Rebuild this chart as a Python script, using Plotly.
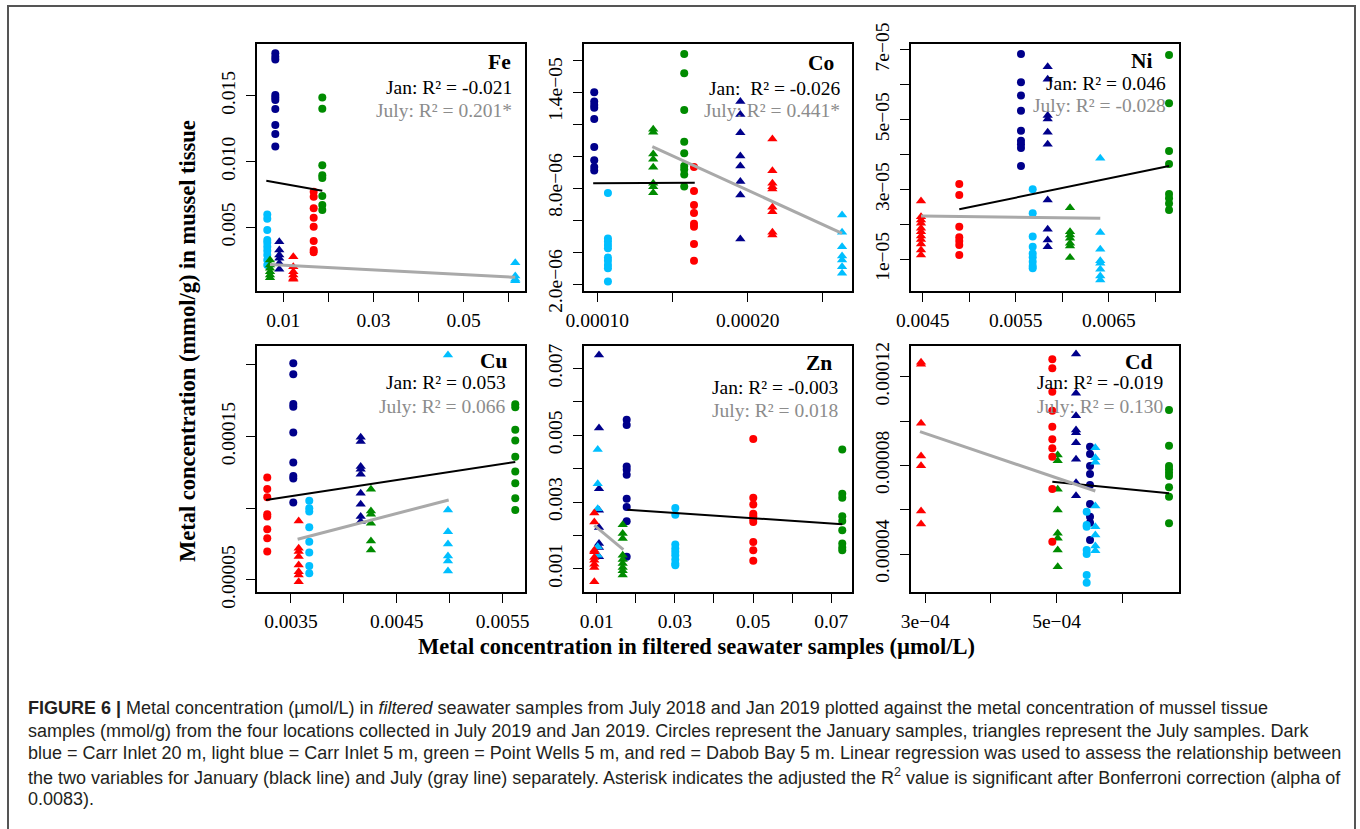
import plotly.graph_objects as go

# ------------------------------------------------------------------
# DATA  (site order: Carr Inlet 20 m, Carr Inlet 5 m, Point Wells 5 m, Dabob Bay 5 m)
# ------------------------------------------------------------------
SITES = ["Carr Inlet 20 m", "Carr Inlet 5 m", "Point Wells 5 m", "Dabob Bay 5 m"]

# ---- Fe ----
fe_jan_x = [0.00823, 0.00645, 0.01865, 0.01674]
fe_jan_y = [
    [0.01823, 0.01797, 0.01777, 0.01506, 0.01488, 0.01468, 0.0140, 0.01278, 0.0121, 0.01116],
    [0.00599, 0.00566, 0.0048, 0.00404, 0.00384, 0.00354, 0.00323, 0.0029, 0.00252, 0.00215],
    [0.01488, 0.01402, 0.00972, 0.00896, 0.00876, 0.00739, 0.0067, 0.00632],
    [0.00772, 0.00734, 0.00645, 0.00574, 0.00506, 0.00397, 0.00329, 0.00311],
]
fe_jul_x = [0.00911, 0.06144, 0.00705, 0.01222]
fe_jul_y = [
    [0.00392, 0.00329, 0.0029, 0.00265, 0.00227, 0.00182],
    [0.00232, 0.00131, 0.00106, 0.00095],
    [0.00252, 0.00215, 0.0019, 0.00164, 0.00139, 0.00118],
    [0.00278, 0.00202, 0.00164, 0.00139, 0.00113, 0.00106],
]
fe_fit_jan = ([0.00623, 0.01865], [0.00855, 0.00779])
fe_fit_jul = ([0.00705, 0.06144], [0.00219, 0.00121])
fe_r2 = ["-0.021", "0.201*"]

# ---- Co ----
co_jan_x = [0.000098, 0.0001071, 0.0001578, 0.0001643]
co_jan_y = [
    [1.398e-5, 1.34e-5, 1.319e-5, 1.302e-5, 1.231e-5, 1.056e-5, 9.73e-6, 9.31e-6, 9.10e-6],
    [7.69e-6, 4.85e-6, 4.65e-6, 4.44e-6, 4.23e-6, 3.65e-6, 3.46e-6, 3.19e-6, 2.98e-6, 2.15e-6],
    [1.6375e-5, 1.517e-5, 1.2875e-5, 1.0896e-5, 1.0167e-5, 9.375e-6, 9.15e-6, 8.85e-6, 8.1e-6],
    [9.31e-6, 7.81e-6, 6.94e-6, 6.44e-6, 5.77e-6, 5.58e-6, 4.5e-6, 3.46e-6],
]
co_jul_x = [0.0001951, 0.0002627, 0.0001372, 0.0002164]
co_jul_y = [
    [1.34e-5, 1.26e-5, 1.146e-5, 1.0e-5, 9.375e-6, 8.4e-6, 7.56e-6, 4.81e-6],
    [6.31e-6, 5.23e-6, 4.33e-6, 3.75e-6, 3.5e-6, 3.08e-6, 2.67e-6],
    [1.167e-5, 1.148e-5, 1.0125e-5, 9.79e-6, 9.29e-6, 8.29e-6, 8.08e-6, 7.71e-6],
    [1.106e-5, 9.08e-6, 8.29e-6, 8.08e-6, 7.94e-6, 6.79e-6, 6.52e-6, 5.23e-6, 5.06e-6],
]
co_fit_jan = ([0.0000973, 0.0001648], [8.29e-6, 8.33e-6])
co_fit_jul = ([0.0001366, 0.0002627], [1.058e-5, 5.17e-6])
co_r2 = ["-0.026", "0.441*"]

# ---- Ni ----
ni_jan_x = [0.005556, 0.005682, 0.007147, 0.004893]
ni_jan_y = [
    [6.883e-5, 6.07e-5, 5.69e-5, 5.26e-5, 4.68e-5, 4.4e-5, 4.3e-5, 4.19e-5, 3.67e-5],
    [3.006e-5, 2.32e-5, 1.65e-5, 1.36e-5, 1.17e-5, 1.06e-5, 9.33e-6, 8.09e-6, 7.42e-6],
    [6.855e-5, 5.47e-5, 4.1e-5, 3.73e-5, 2.87e-5, 2.75e-5, 2.6e-5, 2.41e-5],
    [3.158e-5, 2.843e-5, 1.936e-5, 1.63e-5, 1.525e-5, 1.41e-5, 1.124e-5],
]
ni_jul_x = [0.005843, 0.006408, 0.006083, 0.004482]
ni_jul_y = [
    [6.52e-5, 6.16e-5, 5.12e-5, 5.02e-5, 4.64e-5, 4.3e-5, 2.7e-5, 1.86e-5, 1.55e-5, 1.36e-5],
    [3.894e-5, 1.77e-5, 1.29e-5, 9.6e-6, 8.85e-6, 7.13e-6, 5.22e-6, 4.08e-6],
    [2.48e-5, 1.79e-5, 1.7e-5, 1.6e-5, 1.46e-5, 1.38e-5, 1.05e-5],
    [2.671e-5, 2.22e-5, 2.127e-5, 2.03e-5, 1.89e-5, 1.79e-5, 1.67e-5, 1.57e-5, 1.44e-5, 1.27e-5, 1.12e-5],
]
ni_fit_jan = ([0.004893, 0.007147], [2.433e-5, 3.674e-5])
ni_fit_jul = ([0.004482, 0.006408], [2.24e-5, 2.175e-5])
ni_r2 = ["0.046", "-0.028"]

# ---- Cu ----
cu_jan_x = [0.003522, 0.003673, 0.00562, 0.003276]
cu_jan_y = [
    [0.0002012, 0.0001935, 0.0001728, 0.0001709, 0.0001528, 0.0001319, 0.0001226, 0.0001207, 0.000104],
    [0.0001053, 0.0001, 0.0000977, 0.0000867, 0.0000767, 0.0000691, 0.0000598, 0.0000547],
    [0.0001726, 0.0001705, 0.0001547, 0.0001472, 0.000136, 0.0001256, 0.0001174, 0.000107, 0.0000988],
    [0.0001214, 0.0001135, 0.0001077, 0.0000958, 0.0000942, 0.0000853, 0.0000791, 0.0000698],
]
cu_jul_x = [0.004159, 0.004984, 0.004256, 0.003573]
cu_jul_y = [
    [0.0001495, 0.0001465, 0.0001291, 0.0001272, 0.0001237, 0.0001105, 0.0001028, 0.0000942, 0.0000907],
    [0.000207, 0.0000988, 0.0000837, 0.0000751, 0.0000667, 0.0000633, 0.0000563],
    [0.0001133, 0.0000981, 0.0000958, 0.0000895, 0.0000772, 0.0000709],
    [0.0000912, 0.0000721, 0.0000698, 0.0000663, 0.0000605, 0.0000558, 0.0000535, 0.0000488],
]
cu_fit_jan = ([0.003264, 0.00562], [0.0001058, 0.0001323])
cu_fit_jul = ([0.003563, 0.004991], [0.0000784, 0.0001058])
cu_r2 = ["0.053", "0.066"]

# ---- Zn ----
zn_jan_x = [0.01767, 0.0301, 0.07281, 0.05005]
zn_jan_y = [
    [0.005468, 0.005308, 0.004065, 0.003965, 0.003816, 0.0031, 0.002851, 0.002423, 0.001358],
    [0.002821, 0.002622, 0.001726, 0.001607, 0.001507, 0.001408, 0.001279, 0.001159, 0.001109],
    [0.004572, 0.003249, 0.003129, 0.002572, 0.002433, 0.002154, 0.001756, 0.001637, 0.001557],
    [0.004891, 0.003129, 0.00293, 0.002652, 0.002572, 0.002493, 0.002403, 0.001806, 0.001557, 0.001239],
]
zn_jul_x = [0.01059, 0.01026, 0.01665, 0.00939]
zn_jul_y = [
    [0.007408, 0.005219, 0.003398, 0.002751, 0.002234, 0.001756, 0.001637, 0.001358],
    [0.004572, 0.003547, 0.002801, 0.001657, 0.001408],
    [0.002323, 0.002055, 0.001905, 0.001408, 0.001279, 0.001159, 0.00104, 0.00094, 0.000811],
    [0.002672, 0.002403, 0.001557, 0.001507, 0.001338, 0.001259, 0.001139, 0.00104, 0.000612],
]
zn_fit_jan = ([0.01784, 0.07281], [0.002771, 0.002333])
zn_fit_jul = ([0.00939, 0.01682], [0.002303, 0.001577])
zn_r2 = ["-0.003", "0.018"]

# ---- Cd ----
cd_jan_x = [5.508e-4, 5.457e-4, 6.711e-4, 4.934e-4]
cd_jan_y = [
    [8.842e-5, 8.511e-5, 7.97e-5, 7.609e-5, 7.113e-5, 6.256e-5, 5.684e-5, 5.414e-5, 4.632e-5],
    [5.91e-5, 5.308e-5, 5.233e-5, 4.18e-5, 4.0e-5, 3.053e-5, 2.707e-5],
    [1.0496e-4, 8.887e-5, 7.97e-5, 7.82e-5, 7.669e-5, 7.519e-5, 7.008e-5, 6.586e-5, 5.383e-5],
    [1.2782e-4, 1.2376e-4, 1.1323e-4, 1.0466e-4, 9.744e-5, 9.173e-5, 8.767e-5, 8.391e-5, 6.932e-5, 4.556e-5],
]
cd_jul_x = [5.295e-4, 5.589e-4, 5.016e-4, 2.935e-4]
cd_jul_y = [
    [1.3023e-4, 1.1248e-4, 1.0241e-4, 9.594e-5, 9.474e-5, 9.023e-5, 8.271e-5, 7.218e-5, 6.632e-5],
    [8.797e-5, 8.346e-5, 8.135e-5, 6.165e-5, 5.233e-5, 4.857e-5, 4.361e-5, 4.15e-5],
    [8.466e-5, 8.211e-5, 6.917e-5, 5.985e-5, 4.932e-5, 4.707e-5, 4.18e-5, 3.429e-5],
    [1.2647e-4, 1.2556e-4, 9.895e-5, 8.421e-5, 7.985e-5, 5.94e-5, 5.353e-5],
]
cd_fit_jan = ([4.934e-4, 6.711e-4], [7.263e-5, 6.737e-5])
cd_fit_jul = ([2.919e-4, 5.589e-4], [9.519e-5, 6.842e-5])
cd_r2 = ["-0.019", "0.130"]

# ---- axis ranges and ticks ----
fe_xrange, fe_yrange = [0.00417, 0.0636], [0.00017, 0.01894]
co_xrange, co_yrange = [0.0000912, 0.0002693], [1.5625e-6, 1.7e-5]
ni_xrange, ni_yrange = [0.0043743, 0.007254], [9.2e-7, 7.169e-5]
cu_xrange, cu_yrange = [0.003179, 0.005712], [0.0000416, 0.0002132]
zn_xrange, zn_yrange = [0.00675, 0.0753], [0.000304, 0.007677]
cd_xrange, cd_yrange = [2.782e-4, 6.863e-4], [2.286e-5, 1.3384e-4]

fe_xticks = [0.01, 0.02, 0.03, 0.04, 0.05, 0.06]
fe_xlabels = ["0.01", "", "0.03", "", "0.05", ""]
fe_yticks = [0.005, 0.010, 0.015]
fe_ylabels = ["0.005", "0.010", "0.015"]
co_xticks = [0.00010, 0.00015, 0.00020, 0.00025]
co_xlabels = ["0.00010", "", "0.00020", ""]
co_yticks = [2e-6, 4e-6, 6e-6, 8e-6, 1e-5, 1.2e-5, 1.4e-5, 1.6e-5]
co_ylabels = ["2.0e\u221206", "", "", "8.0e\u221206", "", "", "1.4e\u221205", ""]
ni_xticks = [0.0045, 0.0050, 0.0055, 0.0060, 0.0065, 0.0070]
ni_xlabels = ["0.0045", "", "0.0055", "", "0.0065", ""]
ni_yticks = [1e-5, 2e-5, 3e-5, 4e-5, 5e-5, 6e-5, 7e-5]
ni_ylabels = ["1e\u221205", "", "3e\u221205", "", "5e\u221205", "", "7e\u221205"]
cu_xticks = [0.0035, 0.0040, 0.0045, 0.0050, 0.0055]
cu_xlabels = ["0.0035", "", "0.0045", "", "0.0055"]
cu_yticks = [0.00005, 0.00010, 0.00015, 0.00020]
cu_ylabels = ["0.00005", "", "0.00015", ""]
zn_xticks = [0.01, 0.02, 0.03, 0.04, 0.05, 0.06, 0.07]
zn_xlabels = ["0.01", "", "0.03", "", "0.05", "", "0.07"]
zn_yticks = [0.001, 0.002, 0.003, 0.004, 0.005, 0.006, 0.007]
zn_ylabels = ["0.001", "", "0.003", "", "0.005", "", "0.007"]
cd_xticks = [3e-4, 4e-4, 5e-4, 6e-4]
cd_xlabels = ["3e\u221204", "", "5e\u221204", ""]
cd_yticks = [4e-5, 6e-5, 8e-5, 1e-4, 1.2e-4]
cd_ylabels = ["0.00004", "", "0.00008", "", "0.00012"]

CAPTION = [
    "<b>FIGURE 6 |</b> Metal concentration (\u00b5mol/L) in <i>filtered</i> seawater samples from July 2018 and Jan 2019 plotted against the metal concentration of mussel tissue",
    "samples (mmol/g) from the four locations collected in July 2019 and Jan 2019. Circles represent the January samples, triangles represent the July samples. Dark",
    "blue = Carr Inlet 20 m, light blue = Carr Inlet 5 m, green = Point Wells 5 m, and red = Dabob Bay 5 m. Linear regression was used to assess the relationship between",
    "the two variables for January (black line) and July (gray line) separately. Asterisk indicates the adjusted the R<sup>2</sup> value is significant after Bonferroni correction (alpha of",
    "0.0083).",
]

# ------------------------------------------------------------------
# STYLE / LAYOUT
# ------------------------------------------------------------------
W, H = 1360, 829
SITE_COLORS = ["#00008B", "#00BFFF", "#008B00", "#FF0000"]
SERIF = "Liberation Serif, Times New Roman, serif"
COLS = [(257, 525), (584, 852), (911, 1179)]
ROWS = [(44, 291), (346, 592)]

def px(x):
    return x / W

def py(y):
    return 1 - y / H

panels = [
    ("Fe", 0, 0, fe_jan_x, fe_jan_y, fe_jul_x, fe_jul_y, fe_fit_jan, fe_fit_jul, fe_r2,
     fe_xrange, fe_yrange, fe_xticks, fe_xlabels, fe_yticks, fe_ylabels,
     (513, 62.3), (514, 87.7, 110.0), "Jan: "),
    ("Co", 0, 1, co_jan_x, co_jan_y, co_jul_x, co_jul_y, co_fit_jan, co_fit_jul, co_r2,
     co_xrange, co_yrange, co_xticks, co_xlabels, co_yticks, co_ylabels,
     (836, 62.7), (842, 88.3, 110.7), "Jan: \u00a0"),
    ("Ni", 0, 2, ni_jan_x, ni_jan_y, ni_jul_x, ni_jul_y, ni_fit_jan, ni_fit_jul, ni_r2,
     ni_xrange, ni_yrange, ni_xticks, ni_xlabels, ni_yticks, ni_ylabels,
     (1155, 61.0), (1168, 83.0, 105.5), "Jan: "),
    ("Cu", 1, 0, cu_jan_x, cu_jan_y, cu_jul_x, cu_jul_y, cu_fit_jan, cu_fit_jul, cu_r2,
     cu_xrange, cu_yrange, cu_xticks, cu_xlabels, cu_yticks, cu_ylabels,
     (510, 360.7), (508, 382.3, 406.7), "Jan: "),
    ("Zn", 1, 1, zn_jan_x, zn_jan_y, zn_jul_x, zn_jul_y, zn_fit_jan, zn_fit_jul, zn_r2,
     zn_xrange, zn_yrange, zn_xticks, zn_xlabels, zn_yticks, zn_ylabels,
     (834, 362.7), (840, 387.3, 410.7), "Jan: "),
    ("Cd", 1, 2, cd_jan_x, cd_jan_y, cd_jul_x, cd_jul_y, cd_fit_jan, cd_fit_jul, cd_r2,
     cd_xrange, cd_yrange, cd_xticks, cd_xlabels, cd_yticks, cd_ylabels,
     (1155, 361.7), (1165, 382.3, 406.0), "Jan: "),
]

fig = go.Figure()
layout = {}
annotations = []
TICKFONT = dict(family=SERIF, size=19.5, color="black")

for i, (name, r, c, jx, jy, ux, uy, fj, fu, r2, xr, yr, xt, xl, yt, yl,
        name_pos, stat_pos, jan_prefix) in enumerate(panels):
    k = "" if i == 0 else str(i + 1)
    xa, ya = "x" + k, "y" + k
    x0, x1 = COLS[c]
    y0, y1 = ROWS[r]
    axis_common = dict(showgrid=False, zeroline=False, showline=True, linecolor="black",
                       linewidth=1.6, mirror=True, ticks="outside", ticklen=9, tickwidth=1.3,
                       tickcolor="black", tickfont=TICKFONT, fixedrange=True, automargin=False)
    layout["xaxis" + k] = dict(domain=[px(x0), px(x1)], anchor=ya, range=xr,
                               tickmode="array", tickvals=xt, ticktext=xl, tickangle=0,
                               ticklabelstandoff=2, **axis_common)
    layout["yaxis" + k] = dict(domain=[py(y1), py(y0)], anchor=xa, range=yr,
                               tickmode="array", tickvals=yt, ticktext=yl, tickangle=-90,
                               ticklabelstandoff=3, **axis_common)
    for s in range(4):
        fig.add_trace(go.Scatter(x=[jx[s]] * len(jy[s]), y=jy[s], mode="markers",
                                 marker=dict(symbol="circle", size=8, color=SITE_COLORS[s]),
                                 xaxis=xa, yaxis=ya, showlegend=False,
                                 name=f"{name} Jan {SITES[s]}"))
        fig.add_trace(go.Scatter(x=[ux[s]] * len(uy[s]), y=uy[s], mode="markers",
                                 marker=dict(symbol="triangle-up", size=9, color=SITE_COLORS[s]),
                                 xaxis=xa, yaxis=ya, showlegend=False,
                                 name=f"{name} July {SITES[s]}"))
    fig.add_trace(go.Scatter(x=fj[0], y=fj[1], mode="lines", line=dict(color="black", width=2),
                             xaxis=xa, yaxis=ya, showlegend=False, name=f"{name} Jan fit"))
    fig.add_trace(go.Scatter(x=fu[0], y=fu[1], mode="lines", line=dict(color="#A9A9A9", width=3),
                             xaxis=xa, yaxis=ya, showlegend=False, name=f"{name} July fit"))
    annotations.append(dict(text=f"<b>{name}</b>", x=px(name_pos[0]), y=py(name_pos[1]),
                            xref="paper", yref="paper", xanchor="right", yanchor="middle",
                            showarrow=False, font=dict(family=SERIF, size=21.5, color="black")))
    annotations.append(dict(text=f"{jan_prefix}R\u00b2 = {r2[0]}", x=px(stat_pos[0]), y=py(stat_pos[1]),
                            xref="paper", yref="paper", xanchor="right", yanchor="middle",
                            showarrow=False, font=dict(family=SERIF, size=19.5, color="black")))
    annotations.append(dict(text=f"July: R\u00b2 = {r2[1]}", x=px(stat_pos[0]), y=py(stat_pos[2]),
                            xref="paper", yref="paper", xanchor="right", yanchor="middle",
                            showarrow=False, font=dict(family=SERIF, size=19.5, color="#8C8C8C")))

annotations.append(dict(text="<b>Metal concentration (mmol/g) in mussel tissue</b>",
                        x=px(188), y=py(341), xref="paper", yref="paper", textangle=-90,
                        xanchor="center", yanchor="middle", showarrow=False,
                        font=dict(family=SERIF, size=22.5, color="black")))
annotations.append(dict(text="<b>Metal concentration in filtered seawater samples (\u00b5mol/L)</b>",
                        x=px(697), y=py(646), xref="paper", yref="paper",
                        xanchor="center", yanchor="middle", showarrow=False,
                        font=dict(family=SERIF, size=22.5, color="black")))

cap_y = [707.7, 730.5, 753.3, 776.0, 798.7]
for line, yy in zip(CAPTION, cap_y):
    annotations.append(dict(text=line, x=px(26), y=py(yy), xref="paper", yref="paper",
                            xanchor="left", yanchor="middle", showarrow=False,
                            font=dict(family="Liberation Sans, Arial, sans-serif", size=18, color="#231F20")))

shapes = [dict(type="rect", xref="paper", yref="paper", x0=px(8), x1=px(1355), y0=py(845), y1=py(6),
               line=dict(color="#555555", width=2), fillcolor="rgba(0,0,0,0)")]

fig.update_layout(width=W, height=H, margin=dict(l=0, r=0, t=0, b=0, autoexpand=False),
                  paper_bgcolor="white", plot_bgcolor="white",
                  annotations=annotations, shapes=shapes, **layout)

fig.write_html("out.html",
               post_script="document.body.style.margin='0px';document.body.style.overflow='hidden';")
